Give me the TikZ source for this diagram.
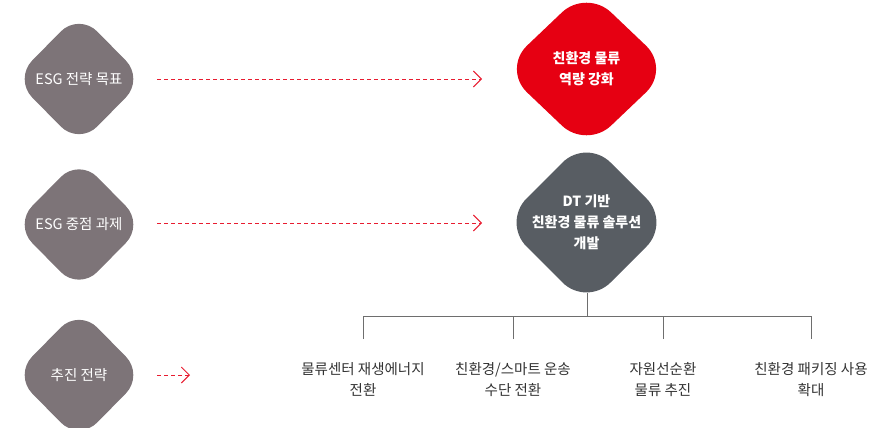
\documentclass[tikz,border=0pt]{standalone}
\usepackage{fontspec}
\setmainfont{Noto Sans CJK KR}
\usetikzlibrary{calc,arrows.meta}
\definecolor{mauve}{RGB}{125,116,120}
\definecolor{hred}{RGB}{230,0,18}
\definecolor{slate}{RGB}{88,93,99}
\definecolor{arrred}{RGB}{232,28,48}
\definecolor{treegray}{RGB}{110,110,110}
\definecolor{labeltxt}{RGB}{51,51,51}
\tikzset{
  dtxt/.style={text=white, align=center, inner sep=0pt, font=\fontsize{14.5}{21}\selectfont},
  btxt/.style={dtxt, font=\fontsize{14}{21}\selectfont\bfseries},
  lbl/.style={text=labeltxt, align=center, inner sep=0pt, font=\fontsize{14.5}{21}\selectfont},
  dasharrow/.style={draw=arrred, line width=0.9pt, dash pattern=on 4pt off 3pt,
    -{Straight Barb[length=8pt,width=16pt,line width=0.9pt]}},
  tree/.style={draw=treegray, line width=1pt},
}
\newcommand\rdia[5]{% color, center, half-x, half-y, radius
  \fill[#1, rounded corners=#5] ($(#2)+(-#3,0)$) -- ($(#2)+(0,-#4)$) -- ($(#2)+(#3,0)$) -- ($(#2)+(0,#4)$) -- cycle;}
\begin{document}
\begin{tikzpicture}[x=1pt,y=-1pt]
\path[use as bounding box] (0,0) rectangle (887,428);
% diamond centers
\coordinate (c1) at (79,79);
\coordinate (c2) at (79,224.5);
\coordinate (c3) at (79,375);
\coordinate (cr) at (586.5,69);
\coordinate (cd) at (586.5,222.5);
\rdia{mauve}{c1}{65}{66}{26}
\rdia{mauve}{c2}{65}{66}{26}
\rdia{mauve}{c3}{65}{66}{26}
\rdia{hred}{cr}{84}{80}{34}
\rdia{slate}{cd}{84}{84}{34}
\node[dtxt] (d1) at (c1) {ESG 전략 목표};
\node[dtxt] (d2) at (c2) {ESG 중점 과제};
\node[dtxt] (d3) at (c3) {추진 전략};
\node[btxt] (r) at (cr) {친환경 물류\\역량 강화};
\node[btxt] (dt) at (cd) {DT 기반\\친환경 물류 솔루션\\개발};
% arrows
\coordinate (a1s) at (157,79); \coordinate (a1e) at (482,79);
\coordinate (a2s) at (157,223); \coordinate (a2e) at (482,223);
\coordinate (a3s) at (157,375); \coordinate (a3e) at (190,375);
\draw[dasharrow] (a1s) -- (a1e);
\draw[dasharrow] (a2s) -- (a2e);
\draw[dasharrow] (a3s) -- (a3e);
% tree
\coordinate (dtb) at (587,293);
\coordinate (j) at (587,316);
\coordinate (t1) at (363,339);
\coordinate (t2) at (513,339);
\coordinate (t3) at (663,339);
\coordinate (t4) at (811,339);
\draw[tree] (dtb) -- (j);
\draw[tree] (t1) -- (t1|-j) -- (t4|-j) -- (t4);
\draw[tree] (t2) -- (t2|-j);
\draw[tree] (t3) -- (t3|-j);
\node[lbl] (l1) at (363,379.5) {물류센터 재생에너지\\전환};
\node[lbl] (l2) at (513,379.5) {친환경/스마트 운송\\수단 전환};
\node[lbl] (l3) at (663,379.5) {자원선순환\\물류 추진};
\node[lbl] (l4) at (811,379.5) {친환경 패키징 사용\\확대};
\end{tikzpicture}
\end{document}
